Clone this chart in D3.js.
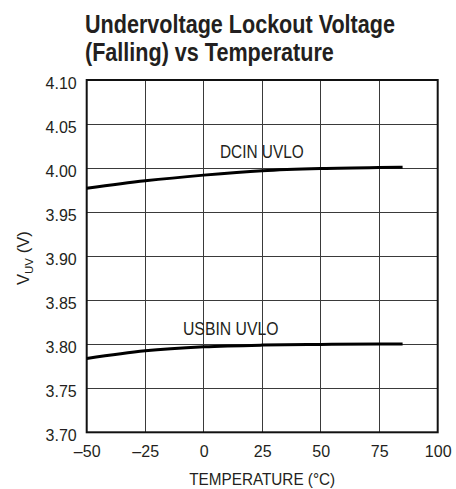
<!DOCTYPE html>
<html>
<head>
<meta charset="utf-8">
<script src="https://cdn.jsdelivr.net/npm/d3@7"></script>
<style>
  html, body { margin: 0; padding: 0; background: #fff; }
  svg { display: block; }
</style>
</head>
<body>
<svg id="chart" width="456" height="489"></svg>
<script>
// Temperature sweep (°C) and measured falling UVLO thresholds (V)
const temperatures = [-50, -25, 0, 25, 50, 75, 85];
const dcinUvlo = [3.977, 3.9855, 3.992, 3.997, 3.9995, 4.0007, 4.001];
const usbinUvlo = [3.7838, 3.7925, 3.797, 3.799, 3.7998, 3.8003, 3.8003];

const xTicks = [-50, -25, 0, 25, 50, 75, 100];
const yTicks = [3.70, 3.75, 3.80, 3.85, 3.90, 3.95, 4.00, 4.05, 4.10];

const titleLines = ["Undervoltage Lockout Voltage", "(Falling) vs Temperature"];
const seriesLabels = ["DCIN UVLO", "USBIN UVLO"];

const regular = "'Liberation Sans', Arial, Helvetica, sans-serif";
const ink = "#231f20";

const svg = d3.select("#chart");
const plotLeft = 86.7, plotRight = 437.7, plotTop = 80, plotBottom = 432.3;

const x = d3.scaleLinear().domain([-50, 100]).range([plotLeft, plotRight]);
const y = d3.scaleLinear().domain([3.70, 4.10]).range([plotBottom, plotTop]);

// Condensed text: horizontally squeezed sans
function condensed(px, py, s, size, weight, txt) {
  return svg.append("text")
    .attr("transform", `translate(${px},${py}) scale(${s},1)`)
    .attr("font-family", regular)
    .attr("font-size", size)
    .attr("font-weight", weight)
    .attr("fill", ink)
    .text(txt);
}

// Title
titleLines.forEach((t, i) => condensed(85, 32.5 + i * 28.5, 0.83, 26, "bold", t));

// Grid
const grid = svg.append("g").attr("stroke", "#3a3a3a").attr("stroke-width", 1).attr("shape-rendering", "crispEdges");
grid.selectAll("line.v").data(xTicks.slice(1, -1)).join("line")
  .attr("class", "v")
  .attr("x1", d => x(d)).attr("x2", d => x(d))
  .attr("y1", plotTop).attr("y2", plotBottom);
grid.selectAll("line.h").data(yTicks.slice(1, -1)).join("line")
  .attr("class", "h")
  .attr("y1", d => y(d)).attr("y2", d => y(d))
  .attr("x1", plotLeft).attr("x2", plotRight);

// Frame
svg.append("rect")
  .attr("x", plotLeft).attr("y", plotTop)
  .attr("width", plotRight - plotLeft).attr("height", plotBottom - plotTop)
  .attr("fill", "none").attr("stroke", "#111").attr("stroke-width", 2);

// Axes (labels only; the frame and grid stand in for the domain and ticks)
const xAxis = svg.append("g")
  .attr("transform", `translate(0,${plotBottom})`)
  .call(d3.axisBottom(x).tickValues(xTicks).tickSize(0).tickPadding(0)
    .tickFormat(d => d < 0 ? "\u2013" + Math.abs(d) : String(d)));
xAxis.select(".domain").remove();
xAxis.selectAll("text")
  .attr("font-family", regular).attr("font-size", 16).attr("fill", ink)
  .attr("dy", null).attr("y", 25);

const yAxis = svg.append("g")
  .attr("transform", `translate(${plotLeft},0)`)
  .call(d3.axisLeft(y).tickValues(yTicks).tickSize(0).tickPadding(10)
    .tickFormat(d3.format(".2f")));
yAxis.select(".domain").remove();
yAxis.selectAll("text")
  .attr("font-family", regular).attr("font-size", 16).attr("fill", ink)
  .attr("dy", null).attr("y", 8);

// Axis titles
svg.append("text")
  .attr("transform", `translate(${(plotLeft + plotRight) / 2},485) scale(0.9,1)`)
  .attr("text-anchor", "middle")
  .attr("font-family", regular).attr("font-size", 17).attr("fill", ink)
  .text("TEMPERATURE (\u00B0C)");

const yTitle = svg.append("text")
  .attr("transform", `translate(29,${(plotTop + plotBottom) / 2 + 2}) rotate(-90)`)
  .attr("text-anchor", "middle")
  .attr("font-family", regular).attr("font-size", 16.5).attr("fill", ink);
yTitle.append("tspan").text("V");
yTitle.append("tspan").attr("font-size", 11.5).attr("dy", 4).text("UV");
yTitle.append("tspan").attr("dy", -4).text(" (V)");

// Curves
const line = d3.line()
  .x((d, i) => x(temperatures[i]))
  .y(d => y(d))
  .curve(d3.curveMonotoneX);

svg.selectAll("path.series").data([dcinUvlo, usbinUvlo]).join("path")
  .attr("class", "series")
  .attr("d", line)
  .attr("fill", "none")
  .attr("stroke", "#000")
  .attr("stroke-width", 3);

// Series labels
condensed(220, 157.5, 0.81, 19, "normal", seriesLabels[0]);
condensed(183, 334.5, 0.83, 19, "normal", seriesLabels[1]);
</script>
</body>
</html>
